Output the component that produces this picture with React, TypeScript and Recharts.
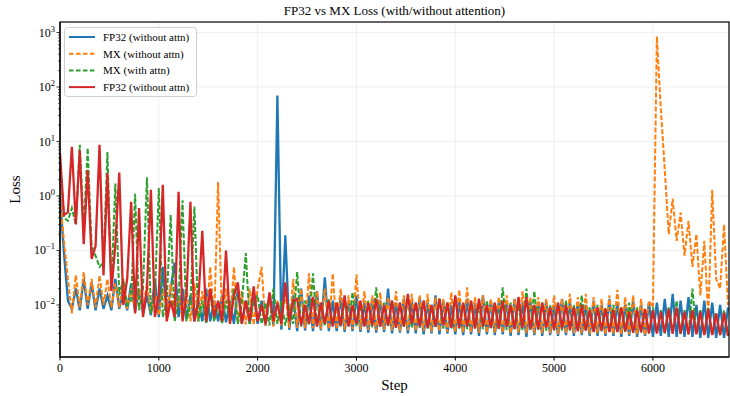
import { LineChart, Line, XAxis, YAxis, CartesianGrid } from 'recharts'

const STEPS = [
  0, 40, 80, 120, 160, 200, 240, 280, 320, 360,
  400, 440, 480, 520, 560, 600, 640, 680, 720, 760,
  800, 840, 880, 920, 960, 1000, 1040, 1080, 1120, 1160,
  1200, 1240, 1280, 1320, 1360, 1400, 1440, 1480, 1520, 1560,
  1600, 1640, 1680, 1720, 1760, 1800, 1840, 1880, 1920, 1960,
  2000, 2040, 2080, 2120, 2160, 2200, 2240, 2280, 2320, 2360,
  2400, 2440, 2480, 2520, 2560, 2600, 2640, 2680, 2720, 2760,
  2800, 2840, 2880, 2920, 2960, 3000, 3040, 3080, 3120, 3160,
  3200, 3240, 3280, 3320, 3360, 3400, 3440, 3480, 3520, 3560,
  3600, 3640, 3680, 3720, 3760, 3800, 3840, 3880, 3920, 3960,
  4000, 4040, 4080, 4120, 4160, 4200, 4240, 4280, 4320, 4360,
  4400, 4440, 4480, 4520, 4560, 4600, 4640, 4680, 4720, 4760,
  4800, 4840, 4880, 4920, 4960, 5000, 5040, 5080, 5120, 5160,
  5200, 5240, 5280, 5320, 5360, 5400, 5440, 5480, 5520, 5560,
  5600, 5640, 5680, 5720, 5760, 5800, 5840, 5880, 5920, 5960,
  6000, 6040, 6080, 6120, 6160, 6200, 6240, 6280, 6320, 6360,
  6400, 6440, 6480, 6520, 6560, 6600, 6640, 6680, 6720, 6760,
]

// FP32 (without attn) - blue
const fp32NoAttn = [
  1.0, 0.09, 0.012, 0.0085, 0.02, 0.008, 0.03, 0.0085, 0.025, 0.008,
  0.02, 0.0085, 0.015, 0.008, 0.03, 0.0085, 0.018, 0.008, 0.025, 0.0075,
  0.02, 0.007, 0.015, 0.0065, 0.03, 0.006, 0.05, 0.006, 0.02, 0.06,
  0.006, 0.02, 0.0055, 0.015, 0.005, 0.012, 0.005, 0.02, 0.005, 0.012,
  0.005, 0.015, 0.0048, 0.012, 0.0045, 0.02, 0.0045, 0.012, 0.0045, 0.015,
  0.0045, 0.012, 0.0042, 0.015, 0.0042, 70, 0.0035, 0.19, 0.0035, 0.015,
  0.0033, 0.02, 0.0034, 0.015, 0.0033, 0.018, 0.0034, 0.032, 0.0033, 0.012,
  0.0033, 0.014, 0.0032, 0.012, 0.0033, 0.015, 0.0032, 0.011, 0.0031, 0.013,
  0.0031, 0.012, 0.0032, 0.02, 0.003, 0.011, 0.0031, 0.013, 0.003, 0.012,
  0.003, 0.014, 0.0029, 0.011, 0.003, 0.015, 0.0029, 0.012, 0.003, 0.01,
  0.0029, 0.012, 0.0028, 0.013, 0.0029, 0.011, 0.0027, 0.015, 0.0029, 0.012,
  0.0028, 0.011, 0.0029, 0.012, 0.0027, 0.013, 0.0028, 0.011, 0.0026, 0.012,
  0.0028, 0.011, 0.0027, 0.012, 0.0028, 0.01, 0.0027, 0.013, 0.0028, 0.011,
  0.0027, 0.011, 0.0028, 0.01, 0.0027, 0.012, 0.0027, 0.01, 0.0027, 0.013,
  0.0027, 0.011, 0.0026, 0.01, 0.0027, 0.012, 0.0026, 0.01, 0.0027, 0.011,
  0.0026, 0.011, 0.0027, 0.013, 0.0026, 0.016, 0.0026, 0.012, 0.0026, 0.014,
  0.0026, 0.01, 0.0025, 0.012, 0.0025, 0.011, 0.0025, 0.01, 0.0025, 0.009,
]

// MX (without attn) - orange dashed
const mxNoAttn = [
  0.9, 0.15, 0.03, 0.007, 0.035, 0.009, 0.04, 0.01, 0.03, 0.009,
  0.035, 0.01, 0.03, 0.009, 0.025, 0.009, 0.03, 0.0085, 0.02, 0.008,
  0.02, 0.008, 0.025, 0.007, 0.018, 0.0065, 0.02, 0.006, 0.025, 0.006,
  0.015, 0.0055, 0.02, 0.005, 0.025, 0.005, 0.018, 0.0048, 0.05, 0.005,
  1.8, 0.0048, 0.02, 0.0045, 0.05, 0.0045, 0.018, 0.0044, 0.02, 0.0043,
  0.02, 0.05, 0.0042, 0.015, 0.004, 0.012, 0.0041, 0.018, 0.0038, 0.03,
  0.0038, 0.02, 0.0037, 0.038, 0.0037, 0.018, 0.0036, 0.02, 0.0036, 0.038,
  0.0036, 0.02, 0.0035, 0.015, 0.0036, 0.036, 0.0035, 0.018, 0.0035, 0.015,
  0.0034, 0.017, 0.0035, 0.014, 0.0034, 0.018, 0.0033, 0.015, 0.0034, 0.016,
  0.0033, 0.015, 0.0033, 0.016, 0.0032, 0.014, 0.0033, 0.013, 0.0032, 0.017,
  0.0032, 0.019, 0.0031, 0.021, 0.0031, 0.014, 0.0031, 0.015, 0.0031, 0.013,
  0.0031, 0.014, 0.0031, 0.015, 0.003, 0.013, 0.0031, 0.018, 0.003, 0.014,
  0.003, 0.014, 0.003, 0.013, 0.003, 0.015, 0.0029, 0.013, 0.003, 0.016,
  0.003, 0.014, 0.003, 0.016, 0.0029, 0.014, 0.003, 0.013, 0.0029, 0.015,
  0.0029, 0.019, 0.0029, 0.014, 0.0029, 0.015, 0.0029, 0.013, 0.0028, 0.012,
  0.009, 850, 40, 3, 0.2, 0.9, 0.15, 0.5, 0.08, 0.35,
  0.05, 0.2, 0.015, 0.15, 0.006, 1.3, 0.03, 0.02, 0.3, 0.01,
]

// MX (with attn) - green dashed
const mxWithAttn = [
  4, 0.4, 0.35, 0.6, 0.3, 8.7, 0.25, 7.6, 0.12, 0.08,
  0.05, 0.06, 6.4, 0.02, 1.7, 0.015, 0.03, 0.01, 0.012, 1.1,
  0.008, 0.02, 2.2, 0.007, 0.015, 1.4, 0.006, 0.012, 0.45, 0.005,
  0.012, 0.83, 0.005, 0.01, 0.64, 0.005, 0.012, 0.0045, 0.015, 0.005,
  0.01, 0.0045, 0.012, 0.005, 0.02, 0.0045, 0.011, 0.09, 0.0045, 0.012,
  0.015, 0.0045, 0.011, 0.0042, 0.02, 0.0045, 0.012, 0.0042, 0.01, 0.0045,
  0.04, 0.004, 0.012, 0.0042, 0.038, 0.004, 0.011, 0.0041, 0.013, 0.004,
  0.011, 0.004, 0.012, 0.0042, 0.017, 0.004, 0.01, 0.0041, 0.012, 0.0039,
  0.021, 0.0039, 0.011, 0.004, 0.012, 0.0038, 0.011, 0.004, 0.013, 0.0038,
  0.011, 0.0038, 0.012, 0.0037, 0.01, 0.0038, 0.013, 0.0037, 0.011, 0.0036,
  0.014, 0.0037, 0.011, 0.0036, 0.012, 0.0037, 0.01, 0.0036, 0.012, 0.0036,
  0.011, 0.0036, 0.021, 0.0035, 0.011, 0.0036, 0.01, 0.0035, 0.02, 0.0035,
  0.018, 0.0035, 0.011, 0.0034, 0.01, 0.0034, 0.011, 0.0034, 0.012, 0.0034,
  0.01, 0.0034, 0.015, 0.0033, 0.009, 0.0033, 0.01, 0.0033, 0.009, 0.0032,
  0.01, 0.0032, 0.009, 0.0032, 0.011, 0.0031, 0.009, 0.0031, 0.008, 0.0031,
  0.009, 0.003, 0.008, 0.003, 0.009, 0.003, 0.012, 0.0029, 0.008, 0.0029,
  0.02, 0.0029, 0.008, 0.0028, 0.009, 0.0028, 0.007, 0.0028, 0.008, 0.0028,
]

// second "FP32 (without attn)" - red
const fp32Second = [
  6, 0.45, 0.5, 8, 0.3, 6.9, 0.13, 3, 0.07, 0.12,
  8.7, 0.035, 2.6, 0.018, 0.13, 2.7, 0.01, 0.03, 0.78, 0.007,
  0.6, 0.006, 0.02, 1.3, 0.006, 0.015, 1.6, 0.005, 0.012, 0.006,
  1.2, 0.005, 0.015, 0.78, 0.005, 0.012, 0.23, 0.005, 0.02, 0.006,
  0.012, 0.005, 0.1, 0.0045, 0.015, 0.026, 0.0045, 0.012, 0.005, 0.022,
  0.005, 0.01, 0.0045, 0.017, 0.005, 0.011, 0.0045, 0.026, 0.005, 0.012,
  0.013, 0.0042, 0.01, 0.0045, 0.014, 0.004, 0.011, 0.0045, 0.012, 0.004,
  0.011, 0.0042, 0.015, 0.004, 0.01, 0.0045, 0.012, 0.004, 0.011, 0.0042,
  0.013, 0.004, 0.01, 0.0042, 0.012, 0.0038, 0.011, 0.004, 0.016, 0.0045,
  0.011, 0.004, 0.012, 0.0038, 0.01, 0.004, 0.013, 0.0042, 0.011, 0.0038,
  0.015, 0.0038, 0.011, 0.004, 0.012, 0.0037, 0.013, 0.004, 0.01, 0.0038,
  0.011, 0.0037, 0.012, 0.004, 0.01, 0.0036, 0.014, 0.0038, 0.014, 0.0036,
  0.01, 0.0036, 0.011, 0.0038, 0.009, 0.0035, 0.011, 0.0037, 0.01, 0.0035,
  0.009, 0.0033, 0.01, 0.0034, 0.008, 0.0032, 0.009, 0.0034, 0.0085, 0.0032,
  0.008, 0.0032, 0.009, 0.0033, 0.0075, 0.0031, 0.008, 0.0032, 0.0085, 0.003,
  0.008, 0.003, 0.0075, 0.0031, 0.0085, 0.003, 0.009, 0.003, 0.0075, 0.0029,
  0.008, 0.0029, 0.0075, 0.0028, 0.0085, 0.0028, 0.007, 0.0028, 0.0072, 0.0027,
]

const X_TICKS = [0, 1000, 2000, 3000, 4000, 5000, 6000]
const Y_MAJOR = [0.01, 0.1, 1, 10, 100, 1000]
const Y_MINOR = [
  0.002, 0.003, 0.004, 0.005, 0.006, 0.007, 0.008, 0.009,
  0.02, 0.03, 0.04, 0.05, 0.06, 0.07, 0.08, 0.09,
  0.2, 0.3, 0.4, 0.5, 0.6, 0.7, 0.8, 0.9,
  2, 3, 4, 5, 6, 7, 8, 9,
  20, 30, 40, 50, 60, 70, 80, 90,
  200, 300, 400, 500, 600, 700, 800, 900,
]

const SERIES = [
  { key: 'fp32', name: 'FP32 (without attn)', color: '#1f77b4', dash: undefined },
  { key: 'mx', name: 'MX (without attn)', color: '#ff7f0e', dash: '5 2' },
  { key: 'mxAttn', name: 'MX (with attn)', color: '#2ca02c', dash: '5 2' },
  { key: 'fp32b', name: 'FP32 (without attn)', color: '#d62728', dash: undefined },
]

const data = STEPS.map((step, i) => ({
  step,
  fp32: fp32NoAttn[i],
  mx: mxNoAttn[i],
  mxAttn: mxWithAttn[i],
  fp32b: fp32Second[i],
}))

const FONT = "'Liberation Serif', 'DejaVu Serif', serif"

const LEFT = 60
const TOP = 22
const RIGHT = 729
const BOTTOM = 357

function YTick(props: any) {
  const { y, payload } = props
  const v = payload.value
  const e = Math.log10(v)
  const major = Math.abs(e - Math.round(e)) < 1e-6
  if (!major) {
    return <line x1={LEFT - 2} x2={LEFT} y1={y} y2={y} stroke="#000" strokeWidth={0.6} />
  }
  const exp = Math.round(e)
  const expText = exp < 0 ? '\u2212' + Math.abs(exp) : String(exp)
  return (
    <g>
      <line x1={LEFT - 3.5} x2={LEFT} y1={y} y2={y} stroke="#000" strokeWidth={0.8} />
      <text x={LEFT - 5} y={y + 4} textAnchor="end" fontSize={12} fontFamily={FONT} fill="#000">
        <tspan>10</tspan>
        <tspan dy={-5} fontSize={8.5}>{expText}</tspan>
      </text>
    </g>
  )
}

export default function App() {
  return (
    <div style={{ position: 'absolute', left: 0, top: 0, width: 730, height: 396, background: '#fff' }}>
      <LineChart
        width={730}
        height={396}
        data={data}
        margin={{ top: TOP, right: 730 - RIGHT, bottom: 0, left: 0 }}
      >
        <CartesianGrid stroke="#ebebeb" strokeWidth={0.8} horizontalValues={Y_MAJOR} />
        <XAxis
          dataKey="step"
          type="number"
          domain={[0, 6770]}
          ticks={X_TICKS}
          allowDataOverflow
          height={396 - BOTTOM}
          tickSize={3.5}
          tickMargin={3}
          tick={{ fontSize: 12, fontFamily: FONT, fill: '#000' }}
          tickLine={{ stroke: '#000' }}
          axisLine={{ stroke: '#000', strokeWidth: 1.2 }}
        />
        <YAxis
          type="number"
          scale="log"
          domain={[0.00111, 1560]}
          allowDataOverflow
          ticks={[...Y_MAJOR, ...Y_MINOR]}
          interval={0}
          width={LEFT}
          tickLine={false}
          tick={<YTick />}
          axisLine={{ stroke: '#000', strokeWidth: 1.2 }}
        />
        {SERIES.map((s) => (
          <Line
            key={s.key}
            dataKey={s.key}
            name={s.name}
            stroke={s.color}
            strokeWidth={s.dash ? 2 : 2.3}
            strokeDasharray={s.dash}
            dot={false}
            isAnimationActive={false}
          />
        ))}
      </LineChart>
      <svg
        width={730}
        height={396}
        style={{ position: 'absolute', left: 0, top: 0, pointerEvents: 'none' }}
      >
        <rect
          x={LEFT}
          y={TOP}
          width={RIGHT - LEFT}
          height={BOTTOM - TOP}
          fill="none"
          stroke="#000"
          strokeWidth={1.2}
        />
        <text x={(LEFT + RIGHT) / 2} y={15} textAnchor="middle" fontSize={13} fontFamily={FONT} fill="#000">
          FP32 vs MX Loss (with/without attention)
        </text>
        <text x={(LEFT + RIGHT) / 2} y={390} textAnchor="middle" fontSize={15} fontFamily={FONT} fill="#000">
          Step
        </text>
        <text
          transform={`translate(20, ${(TOP + BOTTOM) / 2}) rotate(-90)`}
          textAnchor="middle"
          fontSize={15}
          fontFamily={FONT}
          fill="#000"
        >
          Loss
        </text>
        <rect x={64.5} y={27.5} width={132} height={69} rx={3} fill="#fff" fillOpacity={0.85} stroke="#d0d0d0" />
        {SERIES.map((s, i) => {
          const y = 37 + i * 16.7
          return (
            <g key={i}>
              <line x1={69} x2={95} y1={y} y2={y} stroke={s.color} strokeWidth={2} strokeDasharray={s.dash ? '4.5 2.5' : undefined} />
              <text x={103} y={y + 4} fontSize={11} fontFamily={FONT} fill="#000">
                {s.name}
              </text>
            </g>
          )
        })}
      </svg>
    </div>
  )
}
